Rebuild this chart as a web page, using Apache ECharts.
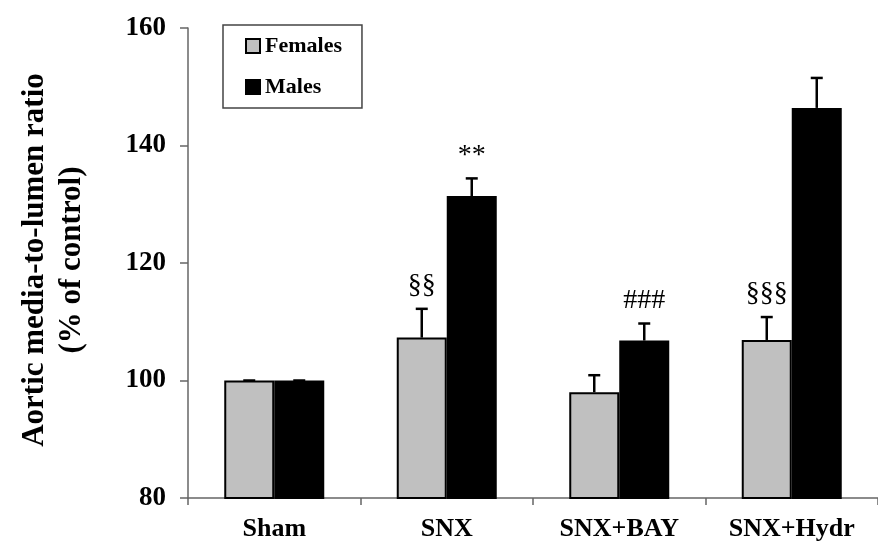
<!DOCTYPE html>
<html>
<head>
<meta charset="utf-8">
<script src="https://cdn.jsdelivr.net/npm/echarts@6/dist/echarts.min.js"></script>
<style>html,body{margin:0;padding:0;background:#fff}#c{width:878px;height:542px}</style>
</head>
<body>
<div id="c"></div>
<script>
const categories = ['Sham', 'SNX', 'SNX+BAY', 'SNX+Hydr'];
const femaleValues = [100, 107.3, 98.0, 106.9];
const femaleErrors = [0, 4.9, 2.9, 3.9];
const maleValues = [100, 131.4, 106.8, 146.4];
const maleErrors = [0, 3.0, 2.9, 5.1];
const femaleMarks = ['', '§§', '', '§§§'];
const maleMarks = ['', '**', '###', ''];
const yTicks = { min: 80, max: 160, interval: 20 };

const FONT = '"Liberation Serif", "Times New Roman", serif';
const BAR_W = 50;

function errorSeries(name, values, errors, marks, offset) {
  return {
    type: 'custom',
    name: name + ' SE',
    z: 5,
    silent: true,
    data: values.map((v, i) => [i, v, v + errors[i]]),
    renderItem: function (params, api) {
      const base = api.coord([api.value(0), api.value(1)]);
      const top = api.coord([api.value(0), api.value(2)]);
      const x = base[0] + offset;
      const mark = marks[params.dataIndex];
      const st = { stroke: '#000', lineWidth: 2.5 };
      const children = [
        { type: 'line', shape: { x1: x, y1: base[1], x2: x, y2: top[1] }, style: st },
        { type: 'line', shape: { x1: x - 6, y1: top[1], x2: x + 6, y2: top[1] }, style: st }
      ];
      if (mark) {
        children.push({
          type: 'text',
          style: {
            text: mark, x: x, y: top[1] - 9,
            align: 'center', verticalAlign: 'bottom',
            font: '28px ' + FONT, fill: '#000'
          }
        });
      }
      return { type: 'group', children: children };
    }
  };
}

const chart = echarts.init(document.getElementById('c'));
chart.setOption({
  animation: false,
  backgroundColor: '#fff',
  grid: { left: 188, top: 28, width: 700, height: 471, containLabel: false },
  legend: {
    data: ['Females', 'Males'],
    orient: 'vertical',
    left: 223, top: 25,
    padding: [10, 20, 10, 22],
    icon: 'rect',
    itemWidth: 14, itemHeight: 14,
    itemGap: 19,
    itemTextGap: 3,
    borderColor: '#444', borderWidth: 1.5,
    textStyle: { fontFamily: FONT, fontWeight: 'bold', fontSize: 22, color: '#000' }
  },
  xAxis: {
    type: 'category',
    data: categories,
    axisLine: { lineStyle: { color: '#666', width: 1.5 } },
    axisTick: { show: true, length: 7, lineStyle: { color: '#666', width: 1.5 } },
    axisLabel: { fontFamily: FONT, fontWeight: 'bold', fontSize: 26, color: '#000', margin: 18 }
  },
  yAxis: {
    type: 'value',
    min: yTicks.min, max: yTicks.max, interval: yTicks.interval,
    axisLine: { show: true, lineStyle: { color: '#666', width: 1.5 } },
    axisTick: { show: true, length: 8, lineStyle: { color: '#666', width: 1.5 } },
    splitLine: { show: false },
    axisLabel: { fontFamily: FONT, fontWeight: 'bold', fontSize: 27, color: '#000', margin: 22 }
  },
  graphic: [{
    type: 'text',
    x: 53, y: 260,
    rotation: Math.PI / 2,
    style: {
      text: 'Aortic media-to-lumen ratio\n(% of control)',
      align: 'center', verticalAlign: 'middle',
      font: 'bold 31px ' + FONT, lineHeight: 37, fill: '#000'
    }
  }],
  series: [
    {
      name: 'Females', type: 'bar', data: femaleValues,
      barWidth: BAR_W, barGap: '0%',
      itemStyle: { color: '#c0c0c0', borderColor: '#000', borderWidth: 2 }
    },
    {
      name: 'Males', type: 'bar', data: maleValues,
      barWidth: BAR_W, barGap: '0%',
      itemStyle: { color: '#000', borderColor: '#000', borderWidth: 2 }
    },
    errorSeries('Females', femaleValues, femaleErrors, femaleMarks, -BAR_W / 2),
    errorSeries('Males', maleValues, maleErrors, maleMarks, BAR_W / 2)
  ]
});
</script>
</body>
</html>
